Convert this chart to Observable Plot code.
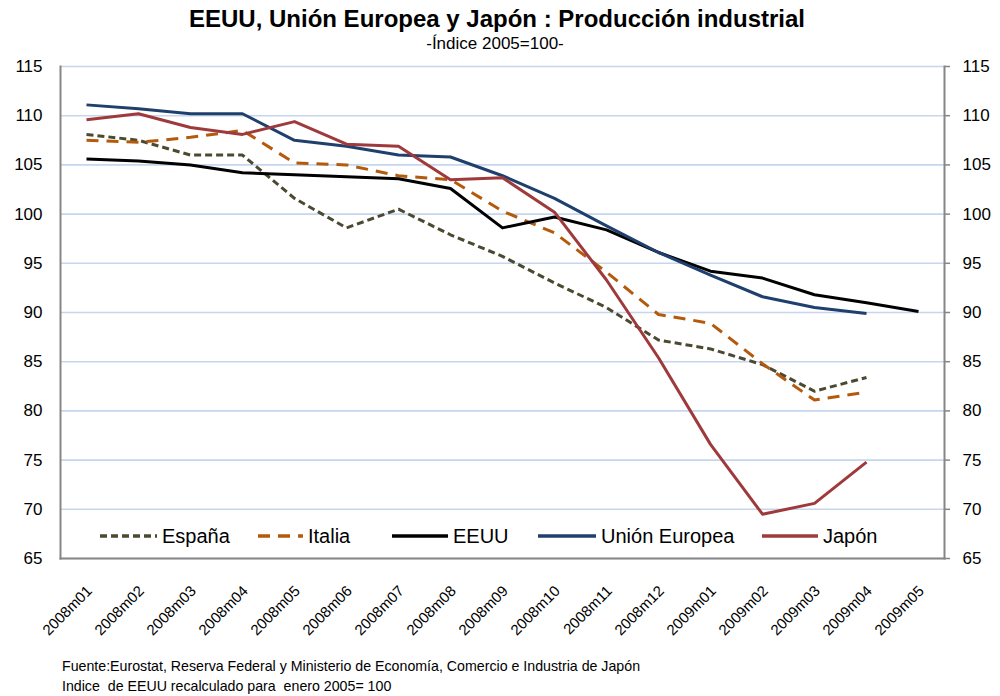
<!DOCTYPE html>
<html>
<head>
<meta charset="utf-8">
<script src="https://cdn.jsdelivr.net/npm/d3@7"></script>
<script src="https://cdn.jsdelivr.net/npm/@observablehq/plot@0.6"></script>
<style>
  body { margin: 0; background: #fff; font-family: "Liberation Sans", Arial, sans-serif; }
  #wrap { position: relative; width: 1000px; height: 696px; overflow: hidden; }
  #title { position: absolute; top: 5px; left: 0; width: 994px; text-align: center; font-weight: bold; font-size: 24px; line-height: 28px; color: #000; }
  #subtitle { position: absolute; top: 35px; left: 0; width: 990px; text-align: center; font-size: 17px; line-height: 18px; color: #000; }
  #chart { position: absolute; top: 50px; left: 0; }
  .leg { position: absolute; top: 524px; display: flex; align-items: center; font-size: 20px; line-height: 24px; color: #000; }
  .leg svg { margin-right: 5px; }
  #caption { position: absolute; top: 656px; left: 62px; font-size: 14.2px; line-height: 20px; color: #000; }
</style>
</head>
<body>
<div id="wrap">
  <div id="title"></div>
  <div id="subtitle"></div>
  <div id="chart"></div>
  <div id="legend"></div>
  <div id="caption"></div>
</div>
<script>
// ---- Data ----
const months = ["2008m01","2008m02","2008m03","2008m04","2008m05","2008m06","2008m07","2008m08","2008m09","2008m10","2008m11","2008m12","2009m01","2009m02","2009m03","2009m04","2009m05"];
const espana = [108.1, 107.5, 106.0, 106.0, 101.6, 98.6, 100.5, 97.9, 95.7, 93.0, 90.5, 87.2, 86.3, 84.7, 82.0, 83.4, null];
const italia = [107.5, 107.3, 107.8, 108.5, 105.2, 105.0, 103.9, 103.5, 100.3, 98.1, 94.1, 89.8, 88.9, 84.8, 81.1, 81.9, null];
const eeuu   = [105.6, 105.4, 105.0, 104.2, 104.0, 103.8, 103.6, 102.6, 98.6, 99.7, 98.4, 96.1, 94.2, 93.5, 91.8, 91.0, 90.1];
const ue     = [111.1, 110.7, 110.2, 110.2, 107.5, 106.9, 106.0, 105.8, 103.9, 101.6, 98.8, 96.1, 93.8, 91.6, 90.5, 89.9, null];
const japon  = [109.6, 110.2, 108.8, 108.1, 109.4, 107.1, 106.9, 103.5, 103.7, 100.2, 93.3, 85.4, 76.6, 69.5, 70.6, 74.8, null];
const yTicks = [65, 70, 75, 80, 85, 90, 95, 100, 105, 110, 115];

const titleText = "EEUU, Unión Europea y  Japón : Producción industrial";
const subtitleText = "-Índice 2005=100-";
const captionLines = [
  "Fuente:Eurostat, Reserva Federal y Ministerio de Economía, Comercio e Industria de Japón",
  "Indice  de EEUU recalculado para  enero 2005= 100"
];

// ---- Series styling ----
const series = [
  {name: "España", values: espana, color: "#4B4A30", dash: "7,4"},
  {name: "Italia", values: italia, color: "#B45A0C", dash: "12,8"},
  {name: "EEUU", values: eeuu, color: "#000000", dash: null},
  {name: "Unión Europea", values: ue, color: "#1F3F6C", dash: null},
  {name: "Japón", values: japon, color: "#9E3A3C", dash: null}
];
const legendLeft = [100, 258, 392, 538, 762];
const legendSwatch = [57, 45, 56, 58, 56];

// ---- Text ----
document.getElementById("title").textContent = titleText;
document.getElementById("subtitle").textContent = subtitleText;
document.getElementById("caption").innerHTML = captionLines.map(l => `<div style="white-space:pre">${l}</div>`).join("");

// ---- Build table ----
const rows = [];
series.forEach(s => months.forEach((m, i) => {
  if (s.values[i] != null) rows.push({serie: s.name, month: m, value: s.values[i]});
}));

const axisGrey = "#868686";

const lineMarks = series.map(s => Plot.line(rows.filter(r => r.serie === s.name), {
  x: "month", y: "value",
  stroke: s.color, strokeWidth: 3,
  strokeDasharray: s.dash || undefined,
  strokeLinejoin: "round", strokeLinecap: "butt"
}));

const chart = Plot.plot({
  width: 1000,
  height: 600,
  marginTop: 16,
  marginBottom: 92,
  marginLeft: 60,
  marginRight: 56,
  style: {fontFamily: "'Liberation Sans', Arial, sans-serif", color: "#000", background: "transparent"},
  x: {type: "point", domain: months, padding: 0.5, label: null},
  y: {domain: [65, 115], label: null},
  marks: [
    Plot.gridY(yTicks, {stroke: "#C5D6EE", strokeOpacity: 1, strokeWidth: 1.6}),
    Plot.frame({anchor: "left", stroke: axisGrey, strokeWidth: 2}),
    Plot.frame({anchor: "right", stroke: axisGrey, strokeWidth: 2}),
    Plot.frame({anchor: "bottom", stroke: axisGrey, strokeWidth: 2}),
    Plot.axisY(yTicks, {anchor: "left", tickSize: 0, tickPadding: 18, fontSize: 17, label: null}),
    Plot.axisY(yTicks, {anchor: "right", tickSize: 5, tickPadding: 13, fontSize: 17, stroke: axisGrey, strokeWidth: 1.5, label: null}),
    Plot.axisX(months, {anchor: "bottom", tickSize: 0, tickPadding: 30, tickRotate: -45, fontSize: 15, dx: 3, label: null}),
    ...lineMarks
  ]
});
document.getElementById("chart").appendChild(chart);

// ---- Legend (inside plot area) ----
const legend = document.getElementById("legend");
series.forEach((s, i) => {
  const item = document.createElement("div");
  item.className = "leg";
  item.style.left = legendLeft[i] + "px";
  const w = legendSwatch[i];
  item.innerHTML = `<svg width="${w}" height="10"><line x1="0" x2="${w}" y1="5" y2="5" stroke="${s.color}" stroke-width="3.5" ${s.dash ? `stroke-dasharray="${s.dash}"` : ""}/></svg><span>${s.name}</span>`;
  legend.appendChild(item);
});
</script>
</body>
</html>
